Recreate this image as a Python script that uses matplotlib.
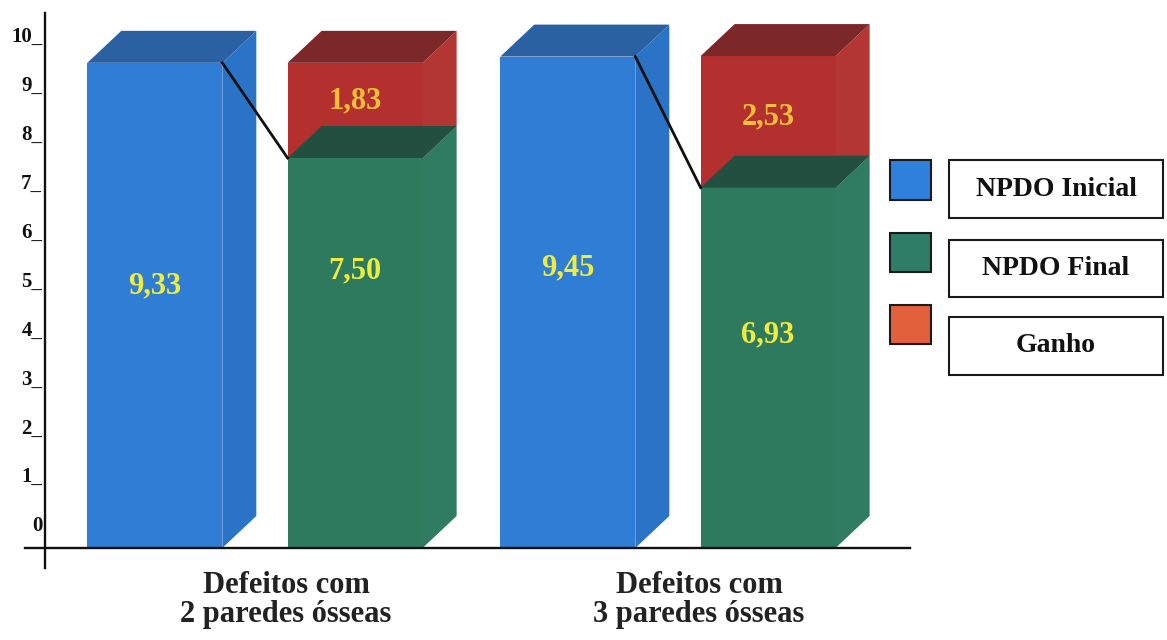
import matplotlib
matplotlib.use("Agg")
import matplotlib.pyplot as plt
from matplotlib.patches import Polygon, Rectangle
from matplotlib.lines import Line2D
from matplotlib.transforms import blended_transform_factory

# ---- data ----
groups = ["Defeitos com\n2 paredes ósseas", "Defeitos com\n3 paredes ósseas"]
series_names = ["NPDO Inicial", "NPDO Final", "Ganho"]
npdo_inicial = [9.33, 9.45]
npdo_final = [7.50, 6.93]
ganho = [1.83, 2.53]
y_ticks = list(range(0, 11))
y_tick_labels = ["0"] + [f"{t}_" for t in range(1, 11)]

# ---- style ----
SERIF = ["Liberation Serif", "DejaVu Serif"]
W, H = 1167, 640
PX_X, PX_Y = 413.0, 52.0          # pixels per data unit
BAR_W = 135 / PX_X
DX, DY = 34 / PX_X, 32 / PX_Y     # oblique depth of the boxes
OFF_INI, OFF_STACK = -0.245, 0.24
BLUE = ("#2f7dd4", "#2b73c6", "#2a61a3")
GREEN = ("#2e7a5e", "#2f7c62", "#234f40")
RED = ("#b4302e", "#b33632", "#7c2828")
LEGEND_COLORS = ["#2f80dc", "#2e7d66", "#e2603c"]
LBL_INI = [0.54, 0.57]
LBL_FIN = [0.71, 0.59]
LBL_GAN = [0.60, 0.54]


def fmt(v):
    return f"{v:.2f}".replace(".", ",")


def box(ax, xc, y0, y1, cols, z):
    xl, xr = xc - BAR_W / 2, xc + BAR_W / 2
    ax.add_patch(Rectangle((xl, y0), BAR_W, y1 - y0, fc=cols[0], ec="none", zorder=z))
    ax.add_patch(Polygon([(xr, y0), (xr + DX, y0 + DY), (xr + DX, y1 + DY), (xr, y1)],
                         closed=True, fc=cols[1], ec="none", zorder=z))
    ax.add_patch(Polygon([(xl, y1), (xl + DX, y1 + DY), (xr + DX, y1 + DY), (xr, y1)],
                         closed=True, fc=cols[2], ec="none", zorder=z))


fig = plt.figure(figsize=(W / 100, H / 100), dpi=100)
ax = fig.add_axes([45 / W, 1 - 548 / H, 865 / W, 535 / H])
ax.set_xlim(-211 / PX_X, 654 / PX_X)
ax.set_ylim(0, 535 / PX_Y)
for s in ax.spines.values():
    s.set_visible(False)
ax.set_xticks([])
ax.set_yticks([])

# axis lines crossing at the origin
ax.add_line(Line2D([0, 0], [-20 / 535, 1], transform=ax.transAxes, color="#111111",
                   lw=1.7, clip_on=False, zorder=6))
ax.add_line(Line2D([-20 / 865, 1], [0, 0], transform=ax.transAxes, color="#111111",
                   lw=1.7, clip_on=False, zorder=6))

# value axis labels
def to_tick(y):
    return (PX_Y * y - 24.3) / 48.9


def from_tick(t):
    return (48.9 * t + 24.3) / PX_Y


sec = ax.secondary_yaxis("left", functions=(to_tick, from_tick))
sec.set_yticks(y_ticks)
sec.set_yticklabels(y_tick_labels)
sec.tick_params(length=0, pad=2)
sec.spines["left"].set_visible(False)
for lbl in sec.get_yticklabels():
    lbl.set_fontfamily(SERIF)
    lbl.set_fontweight("bold")
    lbl.set_fontsize(15)
    lbl.set_color("#111111")

for i in range(len(groups)):
    x_ini = i + OFF_INI
    x_stk = i + OFF_STACK
    ini, fin, gan = npdo_inicial[i], npdo_final[i], ganho[i]

    box(ax, x_ini, 0, ini, BLUE, 2)
    box(ax, x_stk, fin, fin + gan, RED, 2)
    box(ax, x_stk, 0, fin, GREEN, 3)

    # link from the initial level to the final level
    ax.add_line(Line2D([x_ini + BAR_W / 2, x_stk - BAR_W / 2], [ini, fin],
                       color="#111111", lw=2.0, zorder=5))

    tkw = dict(ha="center", va="center", fontfamily=SERIF, fontweight="bold",
               fontsize=22, zorder=7)
    ax.text(x_ini, ini * LBL_INI[i], fmt(ini), color="#f0ec3e", **tkw)
    ax.text(x_stk, fin * LBL_FIN[i], fmt(fin), color="#f0ec3e", **tkw)
    ax.text(x_stk, fin + gan * LBL_GAN[i], fmt(gan), color="#f5bf3a", **tkw)

# category labels under the axis
trans = blended_transform_factory(ax.transData, ax.transAxes)
for i, g in enumerate(groups):
    ax.text(i + 30 / PX_X, -52 / 535, g, transform=trans, ha="center", va="center",
            fontfamily=SERIF, fontweight="bold", fontsize=22, color="#222222",
            linespacing=1.02)

# legend: swatch plus framed label per series
sw_rows = [(160, 200), (233, 272), (305, 344)]
box_rows = [(160, 218), (240, 297), (317, 375)]
for name, col, (s0, s1), (b0, b1) in zip(series_names, LEGEND_COLORS, sw_rows, box_rows):
    fig.add_artist(Rectangle((890 / W, 1 - s1 / H), 41 / W, (s1 - s0) / H,
                             transform=fig.transFigure, fc=col, ec="#1a1a1a", lw=1.5))
    fig.add_artist(Rectangle((949 / W, 1 - b1 / H), 214 / W, (b1 - b0) / H,
                             transform=fig.transFigure, fc="white", ec="#1a1a1a", lw=1.5))
    fig.text(1056 / W, 1 - (b0 + b1) / 2 / H, name, ha="center", va="center",
             fontfamily=SERIF, fontweight="bold", fontsize=20, color="#111111")

fig.savefig("out.png", dpi=100, facecolor="white")
